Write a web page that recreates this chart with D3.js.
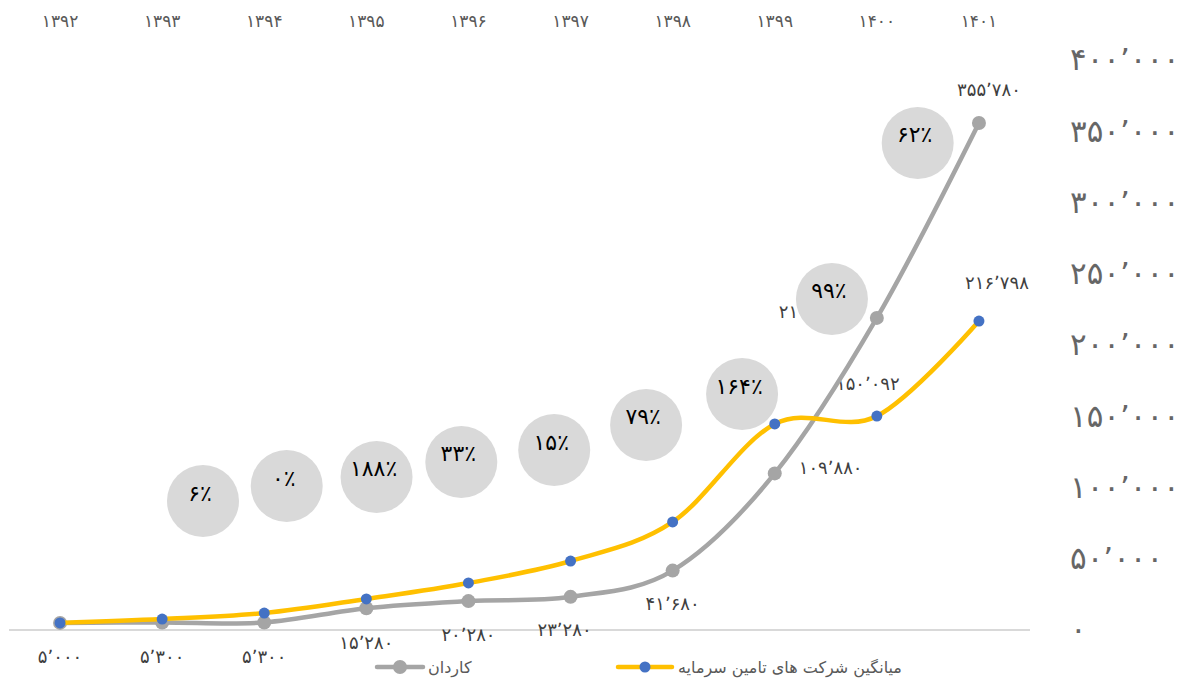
<!DOCTYPE html>
<html>
<head>
<meta charset="utf-8">
<script src="https://cdn.jsdelivr.net/npm/d3@7"></script>
<style>
  html, body { margin: 0; padding: 0; background: #fff; overflow: hidden; }
  svg { display: block; font-family: "DejaVu Sans", sans-serif; }
</style>
</head>
<body>
<div id="chart"></div>
<script>
// years on the top axis
const years = ["1392", "1393", "1394", "1395", "1396", "1397", "1398", "1399", "1400", "1401"];
// کاردان
const kardan = [5000, 5300, 5300, 15280, 20280, 23280, 41680, 109880, 219000, 355780];
// میانگین شرکت های تامین سرمایه
const average = [5000, 7700, 11900, 21800, 33000, 48400, 75800, 144600, 150092, 216798];
// growth bubbles (percent, year-to-year of kardan)
const growth = [6, 0, 188, 33, 15, 79, 164, 99, 62];
// where the bubbles sit: category position (fractional) and value level
const bubbleAt = [1.40, 2.22, 3.10, 3.93, 4.84, 5.74, 6.68, 7.56, 8.40];
const bubbleLevel = [90500, 101000, 107400, 117900, 126300, 143900, 165600, 232300, 341800];
const yTicks = [0, 50000, 100000, 150000, 200000, 250000, 300000, 350000, 400000];

const seriesNames = ["کاردان", "میانگین شرکت های تامین سرمایه"];

const width = 1189, height = 682;
const fa = s => String(s).replace(/\d/g, d => "۰۱۲۳۴۵۶۷۸۹"[d]);
const faNum = v => fa(d3.format(",")(v)).replace(/,/g, "٬");

const svg = d3.select("#chart").append("svg")
    .attr("width", width)
    .attr("height", height);

const x = d3.scaleBand().domain(years).range([9, 1030]);
const cx = d => x(d) + x.bandwidth() / 2;
const xi = d3.scaleLinear().domain([0, years.length - 1]).range([cx(years[0]), cx(years[years.length - 1])]);
const y = d3.scaleLinear().domain([0, 400000]).range([630, 60]);

// baseline
svg.append("line")
    .attr("x1", x.range()[0]).attr("x2", x.range()[1])
    .attr("y1", y(0)).attr("y2", y(0))
    .attr("stroke", "#d9d9d9").attr("stroke-width", 2);

// top category axis
const topAxis = svg.append("g")
    .attr("transform", "translate(0,27)")
    .call(d3.axisTop(x).tickSize(0).tickPadding(0).tickFormat(fa));
topAxis.select(".domain").remove();
topAxis.selectAll("text").attr("fill", "#595959").style("font-size", "17px").style("font-family", "DejaVu Sans");

// right value axis
const rightAxis = svg.append("g")
    .attr("transform", "translate(1070,0)")
    .call(d3.axisRight(y).tickValues(yTicks).tickSize(0).tickPadding(0).tickFormat(faNum));
rightAxis.select(".domain").remove();
rightAxis.selectAll("text").attr("fill", "#666")
    .style("font-size", "31px").style("letter-spacing", "3px").style("font-family", "DejaVu Sans");

// data labels (drawn first so bubbles can cover them)
const grayPlace = [
  [0, 34, "middle"], [0, 34, "middle"], [0, 34, "middle"], [0, 34, "middle"], [0, 33, "middle"],
  [-6, 33, "middle"], [0, 33, "middle"], [24, -6, "start"], [-98, -6, "start"], [10, -34, "middle"]
];
svg.append("g").selectAll("text")
    .data(kardan)
  .enter().append("text")
    .attr("x", (d, i) => cx(years[i]) + grayPlace[i][0])
    .attr("y", (d, i) => y(d) + grayPlace[i][1])
    .attr("text-anchor", (d, i) => grayPlace[i][2])
    .attr("dominant-baseline", "central")
    .attr("fill", "#404040")
    .style("font-size", "18px")
    .style("letter-spacing", "2px")
    .text(d => faNum(d));

const avgPlace = { 8: [-9, -33], 9: [18, -39] };
svg.append("g").selectAll("text")
    .data(average.map((v, i) => ({ v, i })).filter(d => avgPlace[d.i]))
  .enter().append("text")
    .attr("x", d => cx(years[d.i]) + avgPlace[d.i][0])
    .attr("y", d => y(d.v) + avgPlace[d.i][1])
    .attr("text-anchor", "middle")
    .attr("dominant-baseline", "central")
    .attr("fill", "#404040")
    .style("font-size", "18px")
    .style("letter-spacing", "2px")
    .text(d => faNum(d.v));

// growth bubbles
const bubbles = svg.append("g").selectAll("g")
    .data(growth)
  .enter().append("g")
    .attr("transform", (d, i) => `translate(${xi(bubbleAt[i])},${y(bubbleLevel[i])})`);
bubbles.append("circle")
    .attr("r", 36)
    .attr("fill", "#d9d9d9");
bubbles.append("text")
    .attr("x", -3).attr("y", -8)
    .attr("text-anchor", "middle")
    .attr("dominant-baseline", "central")
    .attr("fill", "#000")
    .style("font-size", "22px")
    .text(d => fa(d) + "٪");

// lines
const line = d3.line()
    .x((d, i) => cx(years[i]))
    .y(d => y(d))
    .curve(d3.curveCatmullRom.alpha(0));

svg.append("path")
    .datum(kardan)
    .attr("d", line)
    .attr("fill", "none")
    .attr("stroke", "#a5a5a5")
    .attr("stroke-width", 4.5)
    .attr("stroke-linecap", "round");
svg.append("g").selectAll("circle")
    .data(kardan)
  .enter().append("circle")
    .attr("cx", (d, i) => cx(years[i]))
    .attr("cy", d => y(d))
    .attr("r", 7)
    .attr("fill", "#a5a5a5");

svg.append("path")
    .datum(average)
    .attr("d", line)
    .attr("fill", "none")
    .attr("stroke", "#ffc000")
    .attr("stroke-width", 4.5)
    .attr("stroke-linecap", "round");
svg.append("g").selectAll("circle")
    .data(average)
  .enter().append("circle")
    .attr("cx", (d, i) => cx(years[i]))
    .attr("cy", d => y(d))
    .attr("r", 5.5)
    .attr("fill", "#4472c4");

// legend
const legend = [
  { name: seriesNames[0], x: 377, stroke: "#a5a5a5", marker: "#a5a5a5", r: 7 },
  { name: seriesNames[1], x: 618, stroke: "#ffc000", marker: "#4472c4", r: 5.5 }
];
const lg = svg.append("g").selectAll("g")
    .data(legend)
  .enter().append("g")
    .attr("transform", d => `translate(${d.x},667)`);
lg.append("line")
    .attr("x1", 0).attr("x2", d => d.r > 6 ? 46 : 54)
    .attr("stroke", d => d.stroke)
    .attr("stroke-width", 4.5)
    .attr("stroke-linecap", "round");
lg.append("circle")
    .attr("cx", d => d.r > 6 ? 23 : 27)
    .attr("r", d => d.r)
    .attr("fill", d => d.marker);
lg.append("text")
    .attr("x", d => d.r > 6 ? 51 : 60)
    .attr("dominant-baseline", "central")
    .attr("fill", "#595959")
    .style("font-size", "16px")
    .text(d => d.name);
</script>
</body>
</html>
